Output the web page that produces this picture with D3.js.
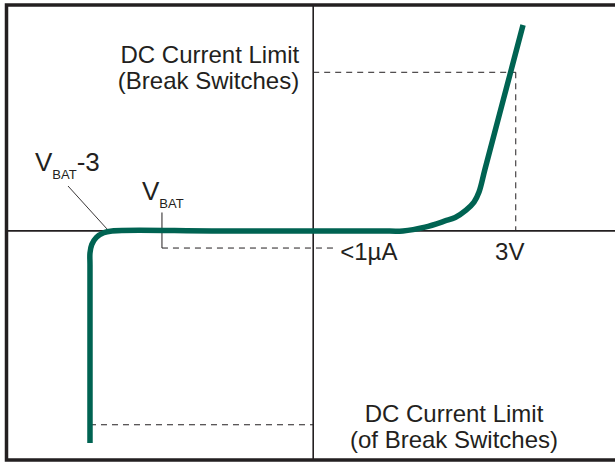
<!DOCTYPE html>
<html>
<head>
<meta charset="utf-8">
<script src="https://cdn.jsdelivr.net/npm/d3@7"></script>
<style>
body { margin:0; background:#fff; }
text { font-family:'Liberation Sans', Arial, sans-serif; fill:#231f20; }
</style>
</head>
<body>
<div id="container"></div>
<script>
// I-V curve of the break switch, (volts, current units)
var curveV = [-3.306, -3.306, -3.306, -3.306, -3.28, -3.211, -3.104, -2.98, -1.5, 0, 1.0, 1.33, 1.656, 1.952, 2.103, 2.264, 2.382, 2.456, 2.545, 3.108]
var curveI = [-132.4, -60, -21.2, -13.8, -8.55, -4.06, -1.12, 0, 0, 0, 0, 0, 2.4, 6.2, 8.4, 13.0, 18.0, 24.3, 38.6, 128.5]

// guide levels
var limitHigh = 99
var limitLow = -121
var leakLevel = -10.7
var vbat = -2.24
var kneeV = 3
var vbat3 = -3.07

var topLabel = ['DC Current Limit', '(Break Switches)']
var bottomLabel = ['DC Current Limit', '(of Break Switches)']
var leakLabel = '<1\u00b5A'
var kneeLabel = '3V'

var W = 615, H = 462
var x = d3.scaleLinear().domain([-4.55, 4.47]).range([6, 615])
var y = d3.scaleLinear().domain([-143, 141]).range([460, 5])

var svg = d3.select('#container').append('svg').attr('width', W).attr('height', H)

var ink = '#231f20'

// dashed guides
var dash = svg.append('g').attr('stroke', ink).attr('stroke-width', 1).attr('stroke-dasharray', '6,5').attr('fill', 'none')
dash.append('line').attr('x1', x(0)).attr('x2', x(kneeV)).attr('y1', y(limitHigh)).attr('y2', y(limitHigh))
dash.append('line').attr('x1', x(kneeV)).attr('x2', x(kneeV)).attr('y1', y(limitHigh)).attr('y2', y(0))
dash.append('line').attr('x1', x(vbat)).attr('x2', x(0.33)).attr('y1', y(leakLevel)).attr('y2', y(leakLevel))
dash.append('line').attr('x1', x(curveV[0])).attr('x2', x(0)).attr('y1', y(limitLow)).attr('y2', y(limitLow))

// axes
var axes = svg.append('g').attr('stroke', ink).attr('stroke-width', 1.6)
axes.append('line').attr('x1', x(-4.55)).attr('x2', x(4.47)).attr('y1', y(0)).attr('y2', y(0))
axes.append('line').attr('x1', x(0)).attr('x2', x(0)).attr('y1', y(141)).attr('y2', y(-143))

// leaders
svg.append('line').attr('x1', x(vbat)).attr('x2', x(vbat)).attr('y1', y(11.5)).attr('y2', y(leakLevel))
	.attr('stroke', ink).attr('stroke-width', 1)
svg.append('line').attr('x1', 68).attr('y1', 186).attr('x2', x(vbat3) + 1).attr('y2', y(0) - 2)
	.attr('stroke', ink).attr('stroke-width', 0.9)

// curve
var pts = curveV.map(function(v, i) { return [x(v), y(curveI[i])] })
svg.append('path').attr('d', d3.line().curve(d3.curveCatmullRom.alpha(0.5))(pts))
	.attr('fill', 'none').attr('stroke', '#006352').attr('stroke-width', 5.5)

// frame
svg.append('path').attr('d', 'M615,5 H6.5 V460 H615').attr('fill', 'none').attr('stroke', ink).attr('stroke-width', 3.5)

// labels
var fs = 24
var topText = svg.append('text').attr('text-anchor', 'end').style('font-size', fs + 'px')
topText.selectAll('tspan').data(topLabel).enter().append('tspan')
	.attr('x', x(0) - 14).attr('y', function(d, i) { return 63 + i * 26 }).text(function(d) { return d })
var bottomText = svg.append('text').attr('text-anchor', 'middle').style('font-size', fs + 'px')
bottomText.selectAll('tspan').data(bottomLabel).enter().append('tspan')
	.attr('x', 454).attr('y', function(d, i) { return 422 + i * 26 }).text(function(d) { return d })
svg.append('text').attr('x', x(0) + 27).attr('y', 260).style('font-size', fs + 'px').text(leakLabel)
svg.append('text').attr('x', x(kneeV) - 6).attr('y', 260).attr('text-anchor', 'middle').style('font-size', fs + 'px').text(kneeLabel)

var t1 = svg.append('text').attr('x', 35).attr('y', 171).style('font-size', '26px')
t1.append('tspan').text('V')
t1.append('tspan').attr('dy', 8).style('font-size', '13px').text('BAT')
t1.append('tspan').attr('dy', -8).text('-3')
var t2 = svg.append('text').attr('x', 142).attr('y', 200).style('font-size', '26px')
t2.append('tspan').text('V')
t2.append('tspan').attr('dy', 8).style('font-size', '13px').text('BAT')
</script>
</body>
</html>
